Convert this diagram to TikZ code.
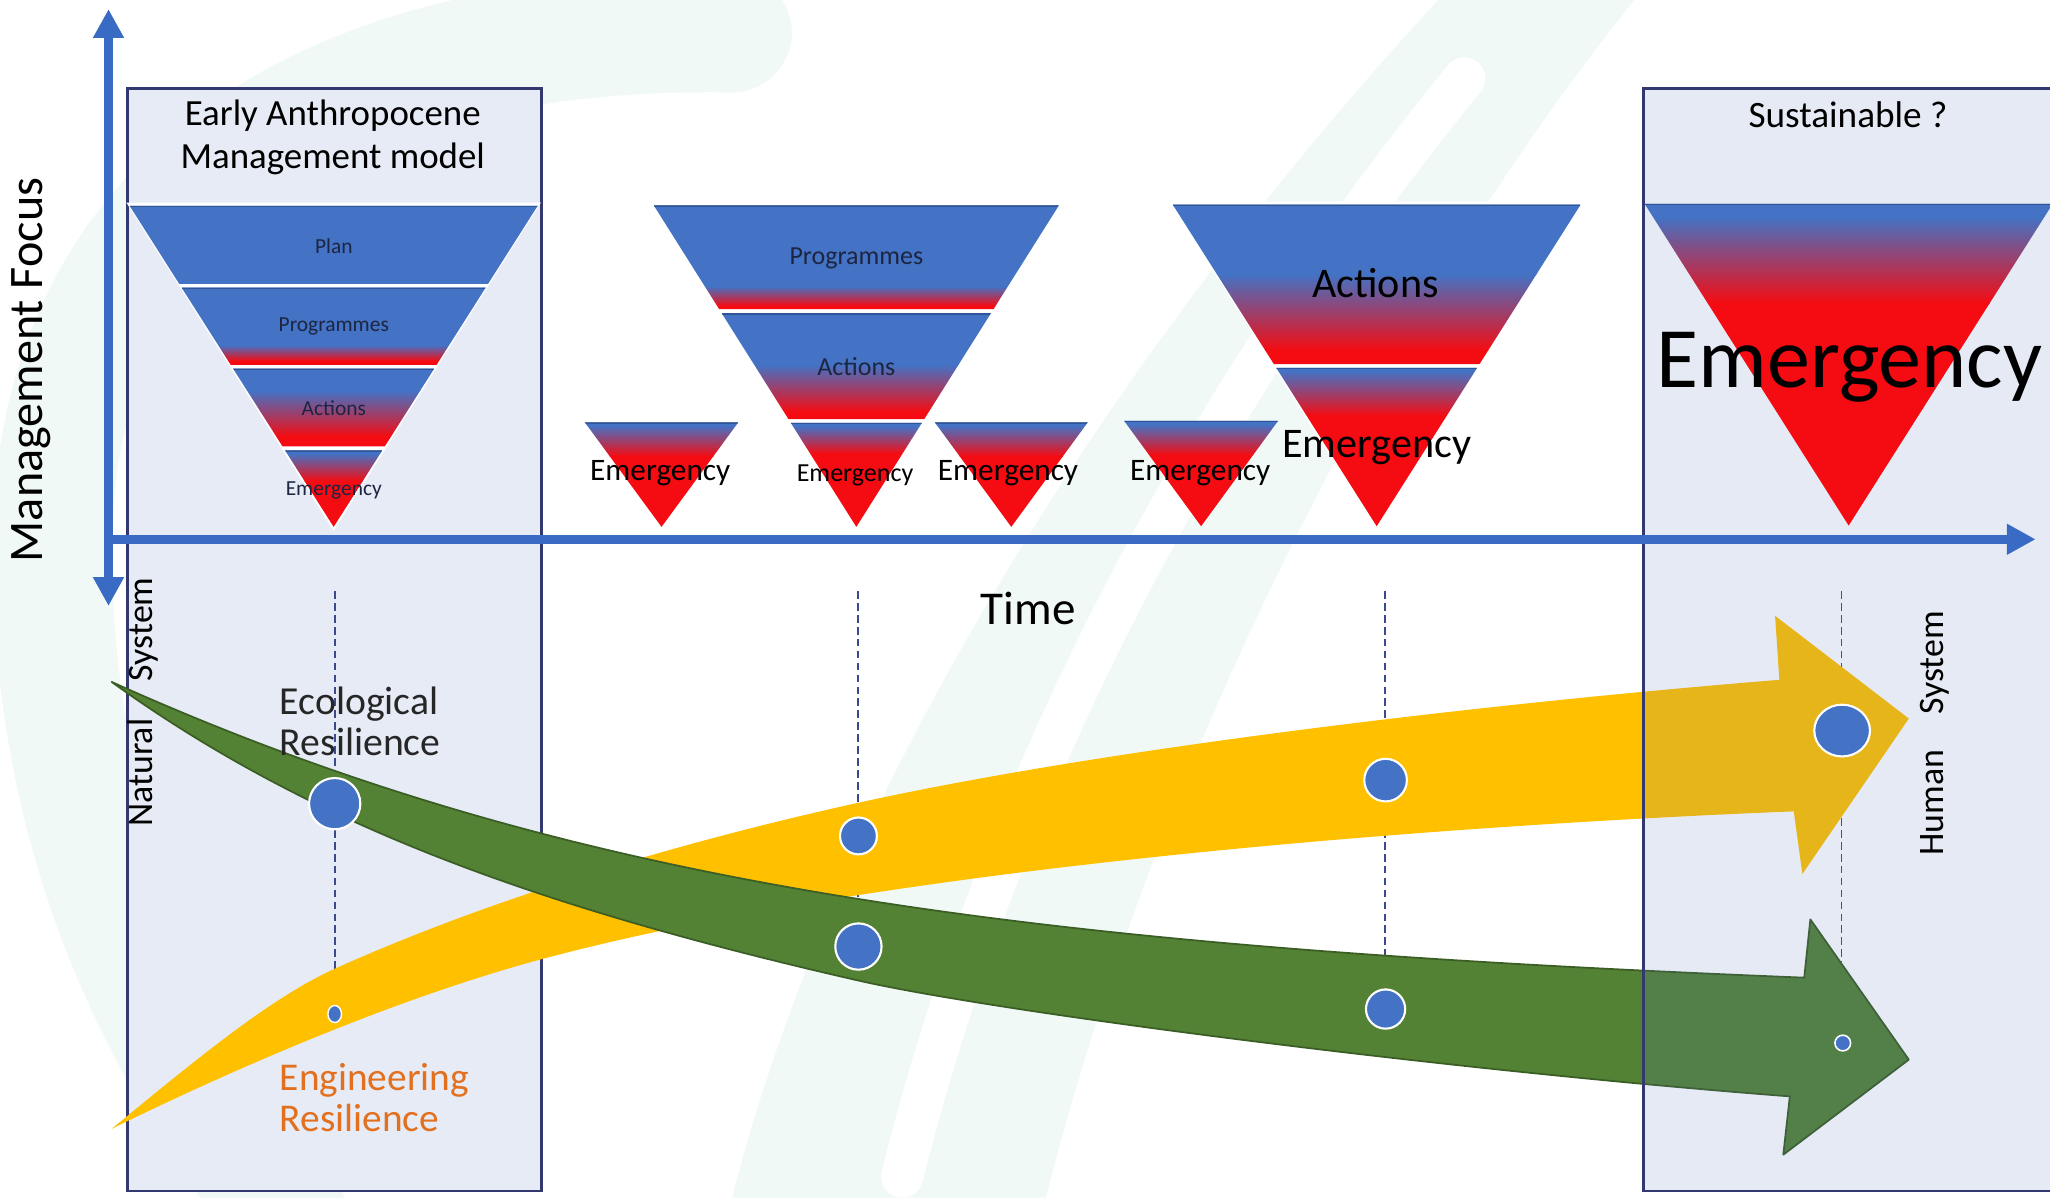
\documentclass[tikz,border=0pt]{standalone}
\usepackage{fontspec}
\setmainfont{Carlito}
\usetikzlibrary{arrows.meta}
\definecolor{tblue}{HTML}{4472C4}
\definecolor{tred}{RGB}{245,12,18}
\definecolor{tedge}{HTML}{2F5597}
\definecolor{axisblue}{HTML}{3A6BC4}
\definecolor{boxblue}{RGB}{83,117,186}
\definecolor{boxleft}{RGB}{230,235,245}
\definecolor{boxline}{HTML}{33386E}
\definecolor{ygold}{HTML}{FFC000}
\definecolor{ggreen}{HTML}{548235}
\definecolor{gedge}{HTML}{3B5E25}
\definecolor{navytext}{HTML}{1C2541}
\definecolor{engorange}{HTML}{E2701F}
\definecolor{mint}{HTML}{F1F9F7}
\definecolor{dashblue}{HTML}{3A4A8C}
\definecolor{dotblue}{HTML}{4472C4}

% #1 cx, #2 ytop, #3 yapex, #4 half width at top, #5 band top, #6 band bottom, #7 blue end, #8 red start
\newcommand{\tband}[8]{%
  \pgfmathsetmacro{\tbwa}{#4/(#3-#2)*(#3-#5)}%
  \pgfmathsetmacro{\tbwb}{#4/(#3-#2)*(#3-#6)}%
  \begin{scope}
    \clip ({#1-\tbwa},{#5}) -- ({#1+\tbwa},{#5}) -- ({#1+\tbwb},{#6}) -- ({#1-\tbwb},{#6}) -- cycle;
    \fill[tblue] ({#1-\tbwa-2},{#5-2}) rectangle ({#1+\tbwa+2},{#7});
    \shade[top color=tblue,bottom color=tred] ({#1-\tbwa-2},{#7}) rectangle ({#1+\tbwa+2},{#8});
    \fill[tred] ({#1-\tbwa-2},{#8}) rectangle ({#1+\tbwa+2},{#6+2});
    \draw[tedge, line width=0.8pt] ({#1-\tbwa},{#5}) -- ({#1+\tbwa},{#5});
  \end{scope}}
% white underlay of a triangle: #1 cx, #2 ytop, #3 yapex, #4 hw
\newcommand{\tunder}[4]{%
  \fill[white] ({#1-#4-2.5},{#2-2.5}) -- ({#1+#4+2.5},{#2-2.5}) -- ({#1},{#3+3}) -- cycle;}

\tikzset{
  axis/.style={axisblue, line width=2.6pt},
  boxstyle/.style={draw=boxline, line width=0.8pt, fill=boxblue, fill opacity=0.145, draw opacity=1},
  leftbox/.style={draw=boxline, line width=0.8pt, fill=boxleft},
  guide/.style={dashblue, line width=0.55pt, dash pattern=on 2.2pt off 1.2pt},
  dot/.style={fill=dotblue, draw=white, line width=0.6pt},
  lab/.style={inner sep=0pt, text=black},
}

\begin{document}
\begin{tikzpicture}[x=0.013074cm, y=-0.013074cm]
\useasboundingbox (0,0) rectangle (1568,916);
\fill[white] (0,0) rectangle (1568,916);

% faint watermark
\draw[mint, line width=34pt, line cap=round] (560,25) .. controls (250,20) and (40,150) .. (40,420) .. controls (40,640) and (120,800) .. (220,930);
\fill[mint] (560,916) .. controls (640,600) and (860,260) .. (1100,0) -- (1250,0) .. controls (1050,250) and (880,600) .. (800,916) -- cycle;
\draw[white, line width=12pt, line cap=round] (690,900) .. controls (760,620) and (900,330) .. (1120,60);

% left box (under the arrows)
\draw[leftbox] (97.4,67.5) rectangle (414,911);

% guide lines
\coordinate (g1a) at (256,452);    \coordinate (g1b) at (256,742);
\coordinate (g2a) at (656.6,452);  \coordinate (g2b) at (656.6,742);
\coordinate (g3a) at (1059.5,452); \coordinate (g3b) at (1059.5,742);
\coordinate (g4a) at (1408.5,452); \coordinate (g4b) at (1408.5,736);
\draw[guide] (g1a) -- (g1b);
\draw[guide] (g2a) -- (g2b);
\draw[guide] (g3a) -- (g3b);
\draw[guide] (g4a) -- (g4b);

% yellow arrow (engineering resilience)
\fill[ygold] (85.4,863.4) .. controls (145.4,814.2) and (206,763.5) .. (256,741)
  .. controls (386,682.5) and (536.6,640.4) .. (656.6,614)
  .. controls (856.6,570) and (1161,536) .. (1361,520)
  -- (1357.7,471) -- (1460,549.6) -- (1378.6,668.5) -- (1372,620.6)
  .. controls (1072,632.6) and (663,666.5) .. (413,734)
  .. controls (313,761) and (195.4,809.5) .. (85.4,863.4) -- cycle;

% green arrow (ecological resilience)
\filldraw[fill=ggreen, draw=gedge, line width=0.5pt, line join=round]
  (85.4,521.6) .. controls (435.4,679.1) and (780,723.8) .. (1380,747.8)
  -- (1384.7,703.2) -- (1460,810.5) -- (1364,883.2) -- (1369,838.6)
  .. controls (1100,818) and (760,773.6) .. (656.6,750)
  .. controls (406.6,693) and (235.4,629.6) .. (85.4,521.6) -- cycle;

% dots
\filldraw[dot] (256,614.7) circle (19.6);
\filldraw[dot, line width=0.4pt] (256,775.6) ellipse (5.2 and 6.5);
\filldraw[dot] (656.6,639.4) circle (14.1);
\filldraw[dot] (656.6,724) circle (17.7);
\filldraw[dot] (1059.8,596.7) circle (16.3);
\filldraw[dot] (1059.8,771.8) circle (15);

% right box (semi transparent, over the arrows)
\draw[boxstyle] (1257.3,67.5) rectangle (1580,911);
\filldraw[dot] (1409,558.8) ellipse (21.3 and 19.8);
\filldraw[dot, line width=0.45pt] (1409.5,797.8) circle (6);

% triangles
% T1
\tunder{255.2}{157.5}{403}{156}
\tband{255.2}{157.5}{403}{156}{157.5}{217.5}{217.5}{218}
\tband{255.2}{157.5}{403}{156}{220}{279}{264}{276}
\tband{255.2}{157.5}{403}{156}{282}{341.5}{299}{334}
\tband{255.2}{157.5}{403}{156}{344.5}{403}{347}{368}
% T2
\tunder{655}{157}{403}{155}
\tband{655}{157}{403}{155}{157}{236.5}{219}{234}
\tband{655}{157}{403}{155}{239.5}{320.5}{279}{315}
\tband{655}{157}{403}{155}{323.5}{403}{326}{347}
% small ones
\tband{506}{323}{403}{58.7}{323}{403}{325.5}{349}
\tband{773.5}{323}{403}{58.5}{323}{403}{325.5}{349}
\tband{918.7}{322}{402.5}{58.8}{322}{402.5}{324.5}{348}
% T3
\tunder{1053}{156.5}{402.5}{156}
\tband{1053}{156.5}{402.5}{156}{156.5}{278.6}{210}{268}
\tband{1053}{156.5}{402.5}{156}{281.4}{402.5}{284}{318}
% T4
\tband{1414}{156}{402}{156}{156}{402}{166}{232}

% axes
\coordinate (vtop) at (83,7);
\coordinate (vbot) at (83,463.5);
\coordinate (orig) at (83,412.5);
\coordinate (hend) at (1557,412.5);
\draw[axis, {Triangle[width=8.3pt,length=8.2pt]}-{Triangle[width=8.3pt,length=8.2pt]}] (vtop) -- (vbot);
\draw[axis, -{Triangle[width=8.3pt,length=8.2pt]}] (orig) -- (hend);

% texts
\node[lab, align=center, font=\fontsize{10.5}{12.3}\selectfont] (titleL) at (254.5,105) {Early Anthropocene\\Management model};
\node[lab, font=\fontsize{10.6}{12}\selectfont] (titleR) at (1413.5,88) {Sustainable ?};

\node[lab, text=navytext, font=\fontsize{6.1}{7}\selectfont] (l1a) at (255.3,188) {Plan};
\node[lab, text=navytext, font=\fontsize{6.1}{7}\selectfont] (l1b) at (255.3,250) {Programmes};
\node[lab, text=navytext, font=\fontsize{6.1}{7}\selectfont] (l1c) at (255.3,312) {Actions};
\node[lab, text=navytext, font=\fontsize{6.1}{7}\selectfont] (l1d) at (255.3,374.8) {Emergency};

\node[lab, text=navytext, font=\fontsize{7.4}{9}\selectfont] (l2a) at (655,197.5) {Programmes};
\node[lab, text=navytext, font=\fontsize{7.4}{9}\selectfont] (l2b) at (655,280.5) {Actions};
\node[lab, font=\fontsize{7.4}{9}\selectfont] (l2c) at (654,363.5) {Emergency};

\node[lab, font=\fontsize{8.9}{10}\selectfont] (ls1) at (505,362) {Emergency};
\node[lab, font=\fontsize{8.9}{10}\selectfont] (ls3) at (771,362) {Emergency};
\node[lab, font=\fontsize{8.9}{10}\selectfont] (ls4) at (918,362) {Emergency};

\node[lab, font=\fontsize{12}{14}\selectfont] (l3a) at (1052,216.6) {Actions};
\node[lab, font=\fontsize{12}{14}\selectfont] (l3b) at (1053,342) {Emergency};
\node[lab, font=\fontsize{24.5}{28}\selectfont] (l4) at (1414.5,280.6) {Emergency};

\node[lab, rotate=90, font=\fontsize{13.7}{15}\selectfont] (mfocus) at (24,283) {Management Focus};
\node[lab, font=\fontsize{13.4}{15}\selectfont] (time) at (786.5,465.4) {Time};

\node[lab, rotate=90, font=\fontsize{10.2}{12}\selectfont] (natsys) at (109,537) {Natural\hspace{10.7pt}System};
\node[lab, rotate=90, font=\fontsize{10.2}{12}\selectfont] (humsys) at (1480,561) {Human\hspace{10pt}System};

\node[lab, anchor=west, align=left, text={black!85}, font=\fontsize{11.3}{11.6}\selectfont] (eco) at (213.5,552) {Ecological\\Resilience};
\node[lab, anchor=west, align=left, text=engorange, font=\fontsize{11.2}{11.6}\selectfont] (eng) at (213.5,839.5) {Engineering\\Resilience};
\end{tikzpicture}
\end{document}
